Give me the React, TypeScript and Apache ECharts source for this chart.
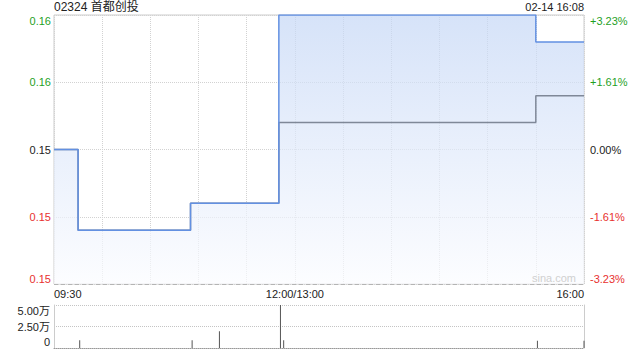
import React, { useEffect, useRef } from "react";
import * as echarts from "echarts";

// Intraday quote for 02324 首都创投
const TITLE = "02324 首都创投";
const STAMP = "02-14 16:08";
const PREV_CLOSE = 0.155;

// Last price: time of each change and the price from then on
const priceTimes = ["09:30", "09:45", "10:55", "11:50", "15:30", "16:00"];
const prices = [0.155, 0.152, 0.153, 0.16, 0.159, 0.159];

// Running average price
const avgTimes = ["09:30", "09:45", "10:55", "11:50", "15:30", "16:00"];
const avgPrices = [0.155, 0.152, 0.153, 0.156, 0.157, 0.157];

// Traded volume (shares) per minute
const volTimes = ["09:46", "10:56", "11:13", "11:51", "11:53", "15:31", "16:00"];
const volumes = [9000, 9000, 19500, 50000, 9000, 8500, 8500];

// Axis tick labels, bottom to top
const priceLabels = ["0.15", "0.15", "0.15", "0.16", "0.16"];
const pctLabels = ["-3.23%", "-1.61%", "0.00%", "+1.61%", "+3.23%"];
const volLabels = ["0", "2.50万", "5.00万"];
const timeLabels: Record<number, string> = { 0: "09:30", 150: "12:00/13:00", 330: "16:00" };

const Y_MIN = 0.15;
const Y_MAX = 0.16;
const Y_STEP = 0.0025;

const UP = "#1f9f1f";
const DOWN = "#e8312f";
const FLAT = "#222";
const FONT = '"Liberation Sans", Arial, "Noto Sans CJK SC", sans-serif';

// Trading minutes since the open, lunch break (12:00-13:00) removed
function tradingMinute(s: string): number {
  const [h, m] = s.split(":").map(Number);
  const t = h * 60 + m;
  return t <= 720 ? t - 570 : t - 780 + 150;
}

const tickIndex = (v: number) => Math.round((v - Y_MIN) / Y_STEP);
const tickColor = (v: number) => {
  const i = tickIndex(v);
  return i > 2 ? UP : i < 2 ? DOWN : FLAT;
};

// Keep the first and last labels inside the plot: nudge the bottom one up, the top one down
const nudge = (text: string, i: number, last: number) =>
  i === 0 ? text + "\n " : i === last ? " \n" + text : text;

export default function App() {
  const ref = useRef<HTMLDivElement>(null);

  useEffect(() => {
    if (!ref.current) return;
    const chart = echarts.init(ref.current, undefined, { renderer: "svg" });

    const pricePts = priceTimes.map((t, i) => [tradingMinute(t), prices[i]]);
    const avgPts = avgTimes.map((t, i) => [tradingMinute(t), avgPrices[i]]);
    const volPts = volTimes.map((t, i) => [tradingMinute(t), volumes[i]]);

    chart.setOption({
      animation: false,
      textStyle: { fontFamily: FONT },
      title: {
        text: TITLE,
        left: 54,
        top: 1,
        padding: 0,
        textStyle: { fontSize: 12, fontWeight: "normal", color: "#222", fontFamily: FONT },
      },
      graphic: [
        { type: "text", right: 56, top: 1, style: { text: STAMP, fontSize: 11, fill: "#222", fontFamily: FONT } },
        { type: "text", left: 532, top: 272, z: 10, style: { text: "sina.com", fontSize: 11, fill: "#d0d0d0", fontFamily: FONT } },
      ],
      grid: [
        { left: 54, top: 15, width: 530, height: 269, show: true, borderColor: "#cccccc", borderWidth: 1 },
        { left: 54, top: 305, width: 530, height: 49 },
      ],
      xAxis: [
        {
          type: "value", gridIndex: 0, min: 0, max: 330, interval: 30,
          axisLine: { show: false }, axisTick: { show: false },
          splitLine: { show: true, lineStyle: { type: "dotted", color: "#d2d2d2" } },
          axisLabel: {
            formatter: (v: number) => timeLabels[Math.round(v)] ?? "",
            alignMinLabel: "left", alignMaxLabel: "right", margin: 4, fontSize: 11, fontFamily: FONT, color: "#222",
          },
        },
        {
          type: "value", gridIndex: 1, min: 0, max: 330, interval: 30,
          axisLabel: { show: false }, axisTick: { show: false }, splitLine: { show: false },
          axisLine: { show: true, lineStyle: { type: "dotted", color: "#999" } },
        },
      ],
      yAxis: [
        {
          type: "value", gridIndex: 0, position: "left", min: Y_MIN, max: Y_MAX, interval: Y_STEP,
          axisLine: { show: false }, axisTick: { show: false },
          splitLine: { show: true, lineStyle: { type: "dotted", color: "#d2d2d2" } },
          axisLabel: {
            margin: 3, fontSize: 11, fontFamily: FONT, lineHeight: 11, color: tickColor,
            formatter: (v: number) => nudge(priceLabels[tickIndex(v)], tickIndex(v), 4),
          },
        },
        {
          type: "value", gridIndex: 0, position: "right", min: Y_MIN, max: Y_MAX, interval: Y_STEP,
          axisLine: { show: false }, axisTick: { show: false }, splitLine: { show: false },
          axisLabel: {
            margin: 6, fontSize: 11, fontFamily: FONT, lineHeight: 11, color: tickColor,
            formatter: (v: number) => nudge(pctLabels[tickIndex(v)], tickIndex(v), 4),
          },
        },
        {
          type: "value", gridIndex: 1, position: "left", min: 0, max: 50000, interval: 25000,
          axisLine: { show: true, lineStyle: { color: "#cccccc" } }, axisTick: { show: false },
          splitLine: { show: true, lineStyle: { type: "dotted", color: "#c4c4c4" } },
          axisLabel: {
            margin: 4, fontSize: 11, fontFamily: FONT, lineHeight: 12, color: "#222",
            formatter: (v: number) => {
              const i = Math.round(v / 25000);
              return nudge(volLabels[i], i, 2);
            },
          },
        },
        {
          type: "value", gridIndex: 1, position: "right", min: 0, max: 50000, interval: 25000,
          axisLine: { show: true, lineStyle: { color: "#cccccc" } }, axisTick: { show: false },
          splitLine: { show: false }, axisLabel: { show: false },
        },
      ],
      series: [
        {
          // shaded area under the last price, with the previous-close reference line
          type: "line", xAxisIndex: 0, yAxisIndex: 0, data: pricePts, step: "end", symbol: "none", z: 1,
          lineStyle: { opacity: 0 },
          areaStyle: {
            color: new echarts.graphic.LinearGradient(0, 0, 0, 1, [
              { offset: 0, color: "#c5d7f6" },
              { offset: 1, color: "#fbfcff" },
            ]),
          },
          markLine: {
            silent: true, symbol: "none", label: { show: false },
            lineStyle: { type: [4, 3], color: "#b4b4b4", width: 1 },
            data: [{ yAxis: PREV_CLOSE }],
          },
        },
        // average price
        { type: "line", xAxisIndex: 0, yAxisIndex: 0, data: avgPts, step: "end", symbol: "none", z: 2, lineStyle: { color: "#7f8898", width: 1.5 } },
        // last price
        { type: "line", xAxisIndex: 0, yAxisIndex: 0, data: pricePts, step: "end", symbol: "none", z: 3, lineStyle: { color: "#6290e2", width: 1.5 } },
        // volume
        { type: "bar", xAxisIndex: 1, yAxisIndex: 2, data: volPts, barWidth: 1, itemStyle: { color: "#555" } },
      ],
    });

    return () => chart.dispose();
  }, []);

  return <div ref={ref} style={{ position: "fixed", left: 0, top: 0, width: 640, height: 360, background: "#fff" }} />;
}
